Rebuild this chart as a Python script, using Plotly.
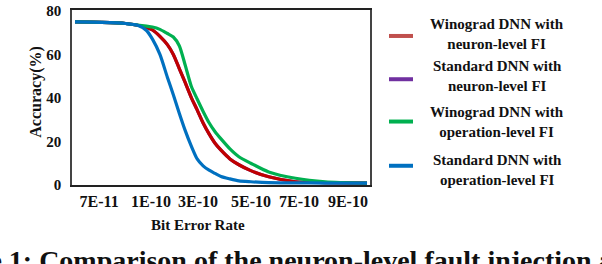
import plotly.graph_objects as go

# ---- data ----
ber_pos = [1, 10, 18, 22, 25, 27, 29.5, 32, 34, 36, 38, 40, 42, 44, 46, 48, 50, 53, 56, 60, 66, 75, 85, 99]
tick_pos = [9.1, 26.5, 42.3, 60.1, 76.2, 92.6]
tick_labels = ["7E-11", "1E-10", "3E-10", "5E-10", "7E-10", "9E-10"]

wino_neuron = [74.9, 74.7, 74.2, 73.4, 72.4, 71.2, 68.3, 64.5, 60.0, 53.5, 47.0, 40.3, 34.5, 28.5, 23.5, 19.2, 16.0, 12.0, 9.3, 6.6, 3.8, 1.5, 1.1, 0.9]
std_neuron = [74.9, 74.7, 74.2, 73.4, 72.4, 71.2, 68.3, 64.5, 60.0, 53.5, 47.0, 40.3, 34.5, 28.5, 23.5, 19.2, 16.0, 12.0, 9.3, 6.6, 3.8, 1.5, 1.1, 0.9]
wino_op = [74.9, 74.7, 74.2, 73.5, 73.0, 72.6, 71.5, 69.6, 68.0, 64.0, 55.0, 45.5, 39.5, 33.8, 28.6, 24.5, 21.2, 16.6, 13.0, 10.0, 6.0, 3.1, 1.5, 0.9]
std_op = [74.9, 74.7, 74.2, 73.4, 71.0, 67.0, 60.0, 49.5, 41.5, 33.0, 25.0, 18.0, 12.0, 8.8, 6.8, 5.3, 3.9, 2.8, 1.9, 1.5, 1.1, 1.0, 0.9, 0.9]

y_ticks = [0, 20, 40, 60, 80]
series_names = ["Winograd DNN with<br>neuron-level FI", "Standard DNN with<br>neuron-level FI",
                "Winograd DNN with<br>operation-level FI", "Standard DNN with<br>operation-level FI"]
line_colors = ["#C00000", "#7030A0", "#00B050", "#0070C0"]
legend_colors = ["#C0504D", "#7030A0", "#00B050", "#0070C0"]

# ---- layout geometry (pixels) ----
W, H = 602, 264
L, R, T, B = 72, 370, 3, 185


def px2x(px):
    return (px - L) / (R - L)


def py2y(py):
    return (B - py) / (B - T)


SERIF = "Liberation Serif, Times New Roman, Times, serif"

fig = go.Figure()
draw_order = [1, 0, 2, 3]
series_vals = [wino_neuron, std_neuron, wino_op, std_op]
for i in draw_order:
    fig.add_trace(go.Scatter(
        x=ber_pos, y=series_vals[i], mode="lines", name=series_names[i],
        line=dict(color=line_colors[i], width=3.2, shape="spline", smoothing=0.7),
        showlegend=False, hoverinfo="skip"))

annotations = []
shapes = []
# legend (manual, centred two-line text)
legend_sym_y = [30, 75, 119, 165]
legend_txt_y = [28, 72, 119, 169]
for i, name in enumerate(series_names):
    shapes.append(dict(type="line", xref="paper", yref="paper",
                       x0=px2x(389), x1=px2x(413), y0=py2y(legend_sym_y[i]), y1=py2y(legend_sym_y[i]),
                       line=dict(color=legend_colors[i], width=4)))
    annotations.append(dict(xref="paper", yref="paper", x=px2x(497), y=py2y(legend_txt_y[i]),
                            text="<b>" + name + "</b>", showarrow=False, xanchor="center", yanchor="middle",
                            align="center",
                            font=dict(family=SERIF, size=15, color="#111")))

# axis titles
annotations.append(dict(xref="paper", yref="paper", x=px2x(198), y=py2y(227),
                        text="<b>Bit Error Rate</b>", showarrow=False, xanchor="center", yanchor="middle",
                        font=dict(family=SERIF, size=15, color="#111")))
annotations.append(dict(xref="paper", yref="paper", x=px2x(36), y=py2y(88),
                        text="<b>Accuracy(%)</b>", showarrow=False, xanchor="center", yanchor="middle",
                        textangle=-90,
                        font=dict(family=SERIF, size=16, color="#111")))
# caption
annotations.append(dict(xref="paper", yref="paper", x=px2x(-79), y=py2y(245),
                        text="<b>Figure 1: Comparison of the neuron-level fault injection and the operation-level fault injection</b>",
                        showarrow=False, xanchor="left", yanchor="top",
                        font=dict(family=SERIF, size=28, color="#111")))

fig.update_layout(
    width=W, height=H,
    margin=dict(l=L, r=W - R, t=T, b=H - B, pad=0),
    paper_bgcolor="white", plot_bgcolor="white",
    showlegend=False,
    annotations=annotations, shapes=shapes,
    xaxis=dict(range=[0, 100], tickvals=tick_pos, ticktext=["<b>" + t + "</b>" for t in tick_labels],
               showgrid=False, zeroline=False, showline=True, linecolor="#222", linewidth=1.5,
               mirror=True, ticks="", ticklabelstandoff=1,
               tickfont=dict(family=SERIF, size=16, color="#111")),
    yaxis=dict(range=[0, 80.4], tickvals=y_ticks,
               ticktext=["<b>%d</b>" % v for v in y_ticks],
               ticklabeloverflow="allow",
               showgrid=False, zeroline=False, showline=True, linecolor="#444", linewidth=1.5,
               mirror=True, ticks="", ticklabelstandoff=6,
               tickfont=dict(family=SERIF, size=15, color="#111")),
)

fig.write_html("out.html", config={"displayModeBar": False},
               post_script="document.body.style.margin='0';document.body.style.overflow='hidden';")
